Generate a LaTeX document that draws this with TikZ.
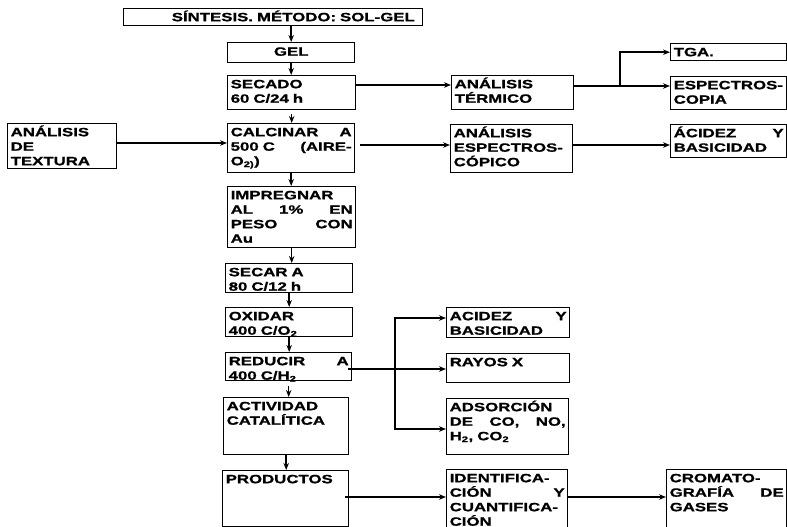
\documentclass[tikz,border=0pt]{standalone}
\usepackage{fontspec}
\setmainfont{Liberation Sans}[FakeStretch=1.4,BoldFeatures={FakeBold=1}]
\usetikzlibrary{arrows.meta}
\exhyphenpenalty=10000
\hyphenpenalty=10000
\tikzset{
  caja/.style={draw,line width=1.4pt,anchor=north west,inner xsep=3pt,inner ysep=0pt,
    align=left,text height=12.5pt,font=\bfseries\fontsize{12}{14.5}\selectfont},
  flecha/.style={->,line width=1.5pt}
}
% name, x, y, width, height, text
\newcommand{\caja}[6]{%
  \pgfmathsetmacro\cajaw{#4-6}\pgfmathsetmacro\cajad{#5-12.5}%
  \node[caja,text width=\cajaw pt,text depth=\cajad pt] (#1) at (#2,#3) {#6};
}

\begin{document}
\begin{tikzpicture}[>={Stealth[length=7pt,width=5.5pt]},x=1pt,y=-1pt]
  \clip (0,0) rectangle (787,527);
  % columna central
  \node[caja,align=right,inner xsep=8pt,text width=283pt,text depth=4.5pt] (titulo) at (123,8) {SÍNTESIS. MÉTODO: SOL-GEL};
  \node[caja,align=center,text width=121pt,text height=13pt,text depth=7pt] (gel) at (227,42) {GEL};
  \caja{secado}{227}{75}{128}{34}{SECADO\\60 C/24 h}
  \caja{calcinar}{227}{123}{127}{49}{CALCINAR \hfill A\\500 C \hfill (AIRE-\\O\textsubscript{2)})}
  \caja{impregnar}{227}{186}{128}{61}{IMPREGNAR\\AL \hfill 1\% \hfill EN\\PESO \hfill CON\\Au}
  \caja{secar}{225}{263}{127}{29}{SECAR A\\80 C/12 h}
  \caja{oxidar}{225}{307}{127}{29}{OXIDAR\\400 C/O\textsubscript{2}}
  \caja{reducir}{225}{352}{126}{28}{REDUCIR \hfill A\\400 C/H\textsubscript{2}}
  \caja{actividad}{223}{397}{125}{57}{ACTIVIDAD\\CATALÍTICA}
  \caja{productos}{222}{470}{126}{56}{PRODUCTOS}
  % izquierda
  \caja{textura}{7}{123}{109}{45}{ANÁLISIS\\DE\\TEXTURA}
  % analisis
  \caja{termico}{451}{75}{122}{34}{ANÁLISIS\\TÉRMICO}
  \caja{espectro}{450}{124}{122}{48}{ANÁLISIS\\ESPECTROS-\\CÓPICO}
  \caja{tga}{670}{43}{116}{17}{TGA.}
  \caja{espectroscopia}{670}{76}{116}{33}{ESPECTROS-\\COPIA}
  \caja{acidezA}{670}{124}{116}{33}{ÁCIDEZ \hfill Y\\BASICIDAD}
  \caja{acidezB}{446}{307}{123}{30}{ACIDEZ \hfill Y\\BASICIDAD}
  \caja{rayos}{446}{353}{123}{29}{RAYOS X}
  \caja{adsorcion}{446}{398}{122}{56}{ADSORCIÓN\\DE \hfill CO, \hfill NO,\\H\textsubscript{2}, CO\textsubscript{2}}
  \caja{identifica}{446}{469}{121}{58}{IDENTIFICA-\\CIÓN \hfill Y\\CUANTIFICA-\\CIÓN}
  \caja{cromato}{666}{469}{120}{58}{CROMATO-\\GRAFÍA \hfill DE\\GASES}

  % flechas verticales
  \draw[flecha] (gel.north |- titulo.south) -- (gel.north);
  \draw[flecha] (gel.south) -- (gel.south |- secado.north);
  \draw[flecha] ([yshift=-4pt]secado.south) -- (secado.south |- calcinar.north);
  \draw[flecha] (calcinar.south) -- (calcinar.south |- impregnar.north);
  \draw[flecha] (impregnar.south) -- (impregnar.south |- secar.north);
  \draw[flecha] (secar.south) -- (secar.south |- oxidar.north);
  \draw[flecha] (oxidar.south) -- (oxidar.south |- reducir.north);
  \draw[flecha] ([yshift=-5pt]reducir.south) -- (reducir.south |- actividad.north);
  \draw[flecha] (actividad.south) -- (actividad.south |- productos.north);

  % flechas horizontales
  \coordinate (s1) at ([yshift=-10pt]secado.north east);
  \draw[flecha] (s1) -- (s1 -| termico.west);
  \coordinate (s2) at ([yshift=-11pt]termico.north east);
  \draw[flecha] (s2) -- (s2 -| espectroscopia.west);
  \coordinate (rama1) at (620,86);
  \draw[flecha] (rama1) |- (tga.west);
  \coordinate (s3) at ([yshift=-20pt]textura.north east);
  \draw[flecha] (s3) -- (s3 -| calcinar.west);
  \coordinate (s4) at ([xshift=5pt,yshift=-22pt]calcinar.north east);
  \draw[flecha] (s4) -- (s4 -| espectro.west);
  \coordinate (s5) at ([yshift=-21pt]espectro.north east);
  \draw[flecha] (s5) -- (s5 -| acidezA.west);
  \coordinate (s6) at ([xshift=-4pt,yshift=-17pt]reducir.north east);
  \draw[flecha] (s6) -- (s6 -| rayos.west);
  \coordinate (rama2) at (395,369);
  \draw[flecha] (rama2) |- ([yshift=-11pt]acidezB.north west);
  \draw[flecha] (rama2) |- ([yshift=-31pt]adsorcion.north west);
  \coordinate (s7) at ([xshift=-4pt,yshift=-27pt]productos.north east);
  \draw[flecha] (s7) -- (s7 -| identifica.west);
  \coordinate (s8) at ([yshift=-28pt]identifica.north east);
  \draw[flecha] (s8) -- (s8 -| cromato.west);
\end{tikzpicture}
\end{document}
